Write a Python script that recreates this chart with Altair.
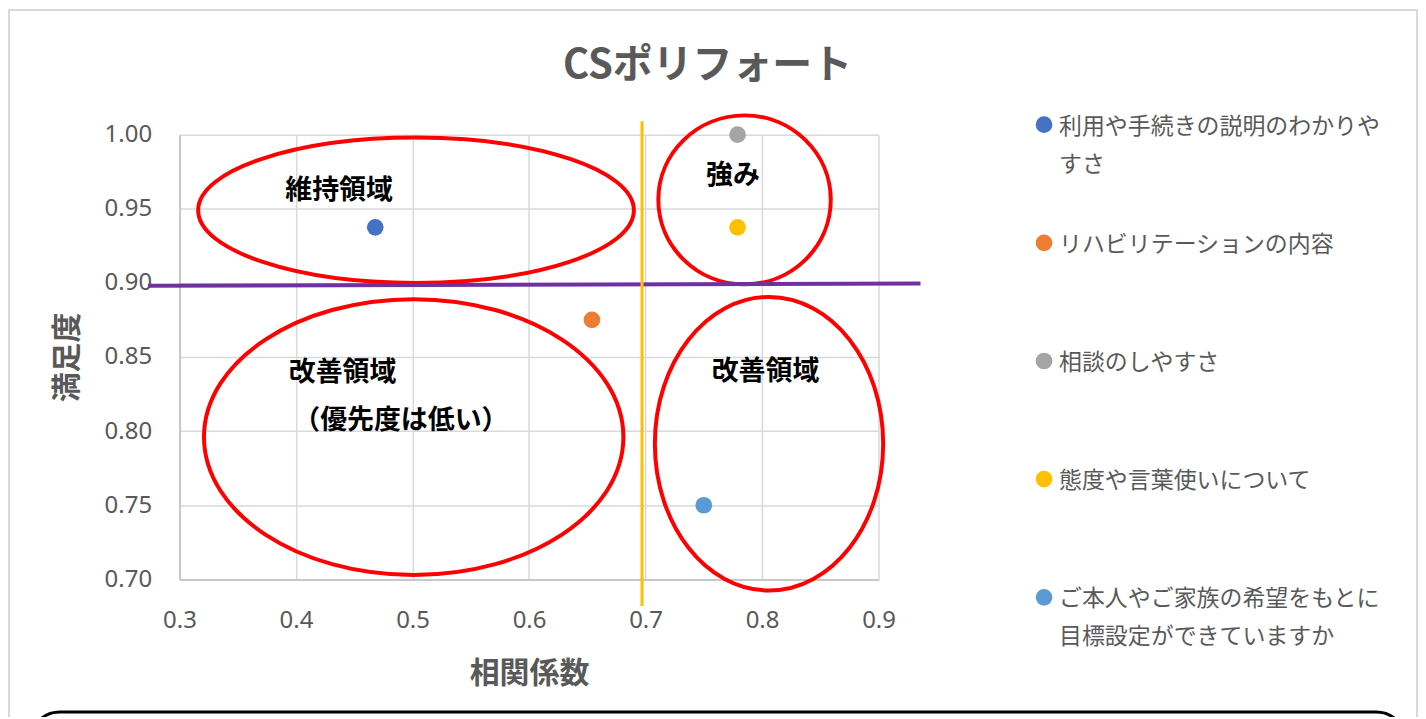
import altair as alt
import pandas as pd

# ---- data ----
items = [
    "利用や手続きの説明のわかりやすさ",
    "リハビリテーションの内容",
    "相談のしやすさ",
    "態度や言葉使いについて",
    "ご本人やご家族の希望をもとに目標設定ができていますか",
]
legend_labels = [
    "利用や手続きの説明のわかりや\nすさ",
    "リハビリテーションの内容",
    "相談のしやすさ",
    "態度や言葉使いについて",
    "ご本人やご家族の希望をもとに\n目標設定ができていますか",
]
correlation = [0.468, 0.654, 0.779, 0.779, 0.750]
satisfaction = [0.9375, 0.875, 1.0, 0.9375, 0.75]
colors = ["#4472C4", "#ED7D31", "#A5A5A5", "#FFC000", "#5B9BD5"]

x_ticks = [0.3, 0.4, 0.5, 0.6, 0.7, 0.8, 0.9]
y_ticks = [0.70, 0.75, 0.80, 0.85, 0.90, 0.95, 1.00]

# reference lines
hline_x = [0.273, 0.936]
hline_y = [0.898, 0.8996]
vline_x = [0.697]
vline_y0 = [0.682]
vline_y1 = [1.009]

# zone ellipses (centre and half-axes in data units)
ellipse_cx = [0.503, 0.785, 0.501, 0.806]
ellipse_cy = [0.949, 0.956, 0.796, 0.7915]
ellipse_hx = [0.187, 0.074, 0.180, 0.098]
ellipse_hy = [0.049, 0.057, 0.093, 0.099]

# zone labels
zone_text = ["維持領域", "強み", "改善領域", "（優先度は低い）", "改善領域"]
zone_x = [0.437, 0.775, 0.440, 0.490, 0.803]
zone_y = [0.962, 0.972, 0.839, 0.807, 0.8396]

# ---- layout ----
W, H = 701, 446
XD = [0.3, 0.9]
YD = [0.7, 1.0]
px_x = W / (XD[1] - XD[0])
px_y = H / (YD[1] - YD[0])

GREY = "#595959"
JP = "Noto Sans CJK JP"

xs = alt.Scale(domain=XD, nice=False, zero=False)
ys = alt.Scale(domain=YD, nice=False, zero=False)
cs = alt.Scale(domain=items, range=colors)

x_axis = alt.Axis(values=x_ticks, format=".1f", title="相関係数", titlePadding=26, labelFlush=False)
y_axis = alt.Axis(values=y_ticks, format=".2f", title="満足度", titlePadding=22, labelFlush=False)

pts = pd.DataFrame({"item": items, "x": correlation, "y": satisfaction})

dummy = pd.DataFrame({"a": [0]})
border = alt.Chart(dummy).mark_rect(
    fill="white", fillOpacity=0, stroke="#d9d9d9", strokeWidth=2
).encode(x=alt.value(-171), x2=alt.value(1241), y=alt.value(-125), y2=alt.value(720))
bottom_box = alt.Chart(dummy).mark_rect(
    fill="white", stroke="black", strokeWidth=3, cornerRadius=30
).encode(x=alt.value(-150), x2=alt.value(1230), y=alt.value(579), y2=alt.value(700))

base_axes = alt.Chart(pts).mark_point(opacity=0).encode(
    x=alt.X("x:Q", scale=xs, axis=x_axis),
    y=alt.Y("y:Q", scale=ys, axis=y_axis),
)

ellipse_layers = []
for cx, cy, hx, hy in zip(ellipse_cx, ellipse_cy, ellipse_hx, ellipse_hy):
    rx = hx * px_x
    ry = hy * px_y
    if rx >= ry:
        k = ry / rx
        path = f"M-1,0A1,{k:.4f} 0 1,0 1,0A1,{k:.4f} 0 1,0 -1,0Z"
        size = (2 * rx) ** 2
    else:
        k = rx / ry
        path = f"M0,-1A{k:.4f},1 0 1,0 0,1A{k:.4f},1 0 1,0 0,-1Z"
        size = (2 * ry) ** 2
    df = pd.DataFrame({"x": [cx], "y": [cy]})
    ellipse_layers.append(
        alt.Chart(df).mark_point(
            shape=path, size=size, filled=False, stroke="#FF0000", strokeWidth=4, opacity=1
        ).encode(x=alt.X("x:Q", scale=xs), y=alt.Y("y:Q", scale=ys))
    )

hline = alt.Chart(pd.DataFrame({"x": hline_x, "y": hline_y})).mark_line(
    color="#7030A0", strokeWidth=4
).encode(x=alt.X("x:Q", scale=xs), y=alt.Y("y:Q", scale=ys))

vline = alt.Chart(pd.DataFrame({"x": vline_x, "y": vline_y0, "y2": vline_y1})).mark_rule(
    color="#FFC000", strokeWidth=3
).encode(x=alt.X("x:Q", scale=xs), y=alt.Y("y:Q", scale=ys), y2="y2:Q")

points = alt.Chart(pts).mark_circle(size=280, opacity=1).encode(
    x=alt.X("x:Q", scale=xs),
    y=alt.Y("y:Q", scale=ys),
    color=alt.Color("item:N", scale=cs, legend=None),
)

zones = alt.Chart(pd.DataFrame({"t": zone_text, "x": zone_x, "y": zone_y})).mark_text(
    font=JP, fontSize=27, fontWeight="bold", color="black", baseline="middle", align="center"
).encode(x=alt.X("x:Q", scale=xs), y=alt.Y("y:Q", scale=ys), text="t:N")

main = alt.layer(border, bottom_box, base_axes, *ellipse_layers, hline, vline, points, zones)

leg_df = pd.DataFrame({"item": items, "label": legend_labels})
leg_y = alt.Y("item:N", scale=alt.Scale(domain=items, range=[-10, 464], padding=0), axis=None)
leg_sym = alt.Chart(leg_df).mark_circle(size=280, opacity=1).encode(
    x=alt.value(867), y=leg_y, color=alt.Color("item:N", scale=cs, legend=None)
)
leg_txt = alt.Chart(leg_df).mark_text(
    align="left", baseline="top", dy=-9, lineBreak="\n", lineHeight=38,
    font=JP, fontSize=23, color=GREY
).encode(x=alt.value(882), y=leg_y, text="label:N")
legend = alt.layer(leg_sym, leg_txt)

chart = (
    alt.layer(main, legend)
    .resolve_scale(y="independent")
    .properties(
        width=W,
        height=H,
        padding={"left": 172, "top": 126, "right": 541, "bottom": 137},
        autosize=alt.AutoSizeParams(type="none"),
        background="white",
        title=alt.TitleParams(
            text="CSポリフォート", font=JP, fontSize=40, fontWeight="bold",
            color=GREY, anchor="middle", dx=179, offset=-117, baseline="bottom",
        ),
    )
    .configure_view(stroke=None)
    .configure_axis(
        labelFont="Noto Sans", labelFontSize=24, labelColor=GREY, labelPadding=10,
        titleFont=JP, titleFontSize=30, titleFontWeight="bold", titleColor=GREY,
        gridColor="#d9d9d9", gridWidth=1.5, domainColor="#bfbfbf", domainWidth=1.5,
        ticks=False, tickSize=0,
    )
    .configure_axisY(labelPadding=28)
    .configure_axisX(labelPadding=29)
)

chart.save("out.html", embed_options={"renderer": "svg", "actions": False})
